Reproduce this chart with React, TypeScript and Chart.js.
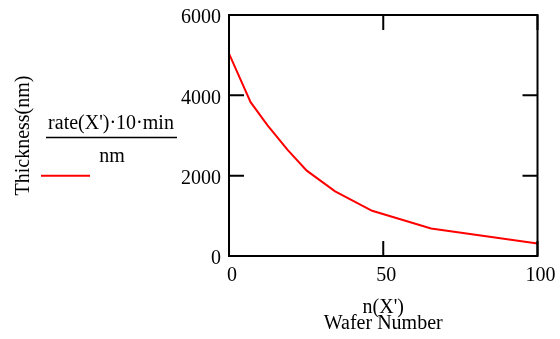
import React, { useEffect, useRef } from "react";
import { Chart, registerables } from "chart.js";

Chart.register(...registerables);

const waferNumbers = [0, 7, 12.5, 19, 25.2, 34.4, 46.4, 65.5, 100];
const thicknessNm = [5040, 3830, 3250, 2640, 2125, 1610, 1125, 685, 310];
const xTickStep = 50;
const yTickStep = 2000;
const xTitle = ["n(X')", "Wafer Number"];
const yTitle = "Thickness(nm)";
const legendNumerator = "rate(X')\u00b710\u00b7min";
const legendDenominator = "nm";

const FONT = "'Liberation Serif', 'Times New Roman', serif";

const mathcadPlugin = {
  id: "mathcadFrame",
  afterDatasetsDraw(chart: any) {
    const { ctx, chartArea } = chart;
    const { left, right, top, bottom } = chartArea;
    const xs = chart.scales.x;
    const ys = chart.scales.y;
    const tl = 15;
    ctx.save();
    ctx.strokeStyle = "#000";
    ctx.lineWidth = 2;
    ctx.strokeRect(left, top, right - left, bottom - top);
    ctx.beginPath();
    for (const t of ys.ticks) {
      const p = ys.getPixelForValue(t.value);
      ctx.moveTo(left, p);
      ctx.lineTo(left + tl, p);
      ctx.moveTo(right, p);
      ctx.lineTo(right - tl, p);
    }
    for (const t of xs.ticks) {
      const p = xs.getPixelForValue(t.value);
      ctx.moveTo(p, bottom);
      ctx.lineTo(p, bottom - tl);
      ctx.moveTo(p, top);
      ctx.lineTo(p, top + tl);
    }
    ctx.stroke();

    // legend
    ctx.fillStyle = "#000";
    ctx.font = `20px ${FONT}`;
    ctx.textAlign = "center";
    ctx.textBaseline = "alphabetic";
    ctx.fillText(legendNumerator, 111, 129);
    ctx.fillText(legendDenominator, 112, 161.5);
    ctx.lineWidth = 1.5;
    ctx.beginPath();
    ctx.moveTo(46, 137.5);
    ctx.lineTo(177, 137.5);
    ctx.stroke();
    ctx.strokeStyle = "#ff0000";
    ctx.lineWidth = 2;
    ctx.beginPath();
    ctx.moveTo(41, 175.7);
    ctx.lineTo(90, 175.7);
    ctx.stroke();
    ctx.restore();
  },
};

export default function App() {
  const ref = useRef<HTMLCanvasElement | null>(null);
  useEffect(() => {
    if (!ref.current) return;
    const chart = new Chart(ref.current, {
      type: "line",
      data: {
        datasets: [
          {
            data: waferNumbers.map((x, i) => ({ x, y: thicknessNm[i] })),
            borderColor: "#ff0000",
            borderWidth: 2,
            pointRadius: 0,
            tension: 0,
            fill: false,
          },
        ],
      },
      options: {
        animation: false,
        responsive: false,
        devicePixelRatio: 1,
        layout: { padding: { left: 0, top: 15, right: 22.5, bottom: 0 } },
        plugins: { legend: { display: false }, tooltip: { enabled: false } },
        scales: {
          x: {
            type: "linear",
            min: 0,
            max: 100,
            afterFit: (s: any) => {
              s.height = 83;
              s.paddingLeft = 0;
              s.paddingRight = 0;
            },
            grid: { display: false, drawTicks: false },
            border: { display: false },
            ticks: {
              stepSize: xTickStep,
              color: "#000",
              font: { family: FONT, size: 20 },
              padding: 8,
              labelOffset: 3,
              maxRotation: 0,
            },
            title: {
              display: true,
              text: xTitle,
              color: "#000",
              font: { family: FONT, size: 20, lineHeight: 0.8 },
              padding: { top: 0, bottom: 7 },
            },
          },
          y: {
            type: "linear",
            min: 0,
            max: 6000,
            afterFit: (s: any) => {
              s.width = 229;
              s.paddingTop = 0;
              s.paddingBottom = 0;
            },
            grid: { display: false, drawTicks: false },
            border: { display: false },
            ticks: {
              stepSize: yTickStep,
              color: "#000",
              font: { family: FONT, size: 20 },
              padding: 8,
              labelOffset: 3,
              callback: (v: any) => String(v),
            },
            title: {
              display: true,
              text: yTitle,
              color: "#000",
              font: { family: FONT, size: 20, lineHeight: 1 },
              padding: { top: 14, bottom: 0 },
            },
          },
        },
      },
      plugins: [mathcadPlugin],
    } as any);
    return () => chart.destroy();
  }, []);
  return (
    <div style={{ position: "fixed", left: 0, top: 0, width: 560, height: 339, background: "#fff" }}>
      <canvas ref={ref} width={560} height={339} />
    </div>
  );
}
